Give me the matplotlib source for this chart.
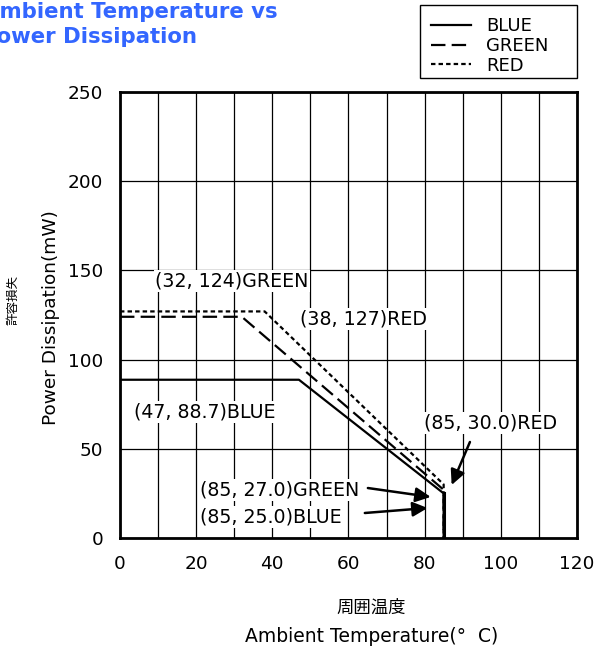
import matplotlib
matplotlib.use("Agg")
import matplotlib.pyplot as plt
from matplotlib.patches import Rectangle

plt.rcParams['font.family'] = ['DejaVu Sans', 'Noto Sans CJK JP']

blue_x = [0, 47, 85, 85]
blue_y = [88.7, 88.7, 25.0, 0]
green_x = [0, 32, 85, 85]
green_y = [124, 124, 27.0, 0]
red_x = [0, 38, 85, 85]
red_y = [127, 127, 30.0, 0]

xticks = [0, 20, 40, 60, 80, 100, 120]
yticks = [0, 50, 100, 150, 200, 250]

W, H = 596, 648
fig = plt.figure(figsize=(W / 100, H / 100), dpi=100)
ax = fig.add_axes([0.2013, 0.1698, 0.7667, 0.6882])

ax.set_xlim(0, 120)
ax.set_ylim(0, 250)
ax.set_xticks(xticks)
ax.set_yticks(yticks)
ax.set_xticks(range(0, 121, 10), minor=True)
ax.grid(True, which='both', axis='x', color='black', lw=0.9)
ax.grid(True, which='major', axis='y', color='black', lw=0.9)
ax.set_axisbelow(True)
ax.tick_params(which='both', length=0, labelsize=13.3)
ax.tick_params(axis='y', pad=12)
ax.tick_params(axis='x', pad=12)
for s in ax.spines.values():
    s.set_linewidth(2)

l1, = ax.plot(blue_x, blue_y, color='black', lw=1.6, label='BLUE', zorder=5)
l2, = ax.plot(green_x, green_y, color='black', lw=1.6, dashes=(6.5, 2.8), label='GREEN', zorder=5)
l3, = ax.plot(red_x, red_y, color='black', lw=1.6, dashes=(2.0, 1.4), label='RED', zorder=5)
ax.plot([85, 85], [0, 25], color='black', lw=2.2, zorder=6)

bb = dict(facecolor='white', edgecolor='none', pad=1)
fs = 13.7
ax.text(29.3, 144, '(32, 124)GREEN', ha='center', va='center', fontsize=fs, bbox=bb, zorder=3)
ax.text(64, 122.8, '(38, 127)RED', ha='center', va='center', fontsize=fs, bbox=bb, zorder=3)
ax.text(22.2, 70.6, '(47, 88.7)BLUE', ha='center', va='center', fontsize=fs, bbox=bb, zorder=3)
ax.text(97.4, 64.5, '(85, 30.0)RED', ha='center', va='center', fontsize=fs, bbox=bb, zorder=3)
ax.text(21.0, 26.9, '(85, 27.0)GREEN', ha='left', va='center', fontsize=fs, bbox=bb, zorder=3)
ax.text(21.0, 11.8, '(85, 25.0)BLUE', ha='left', va='center', fontsize=fs, bbox=bb, zorder=3)

ap = dict(arrowstyle='-|>,head_length=0.45,head_width=0.22', color='black', lw=1.8,
          mutation_scale=20, shrinkA=0, shrinkB=0)
ax.annotate('', xy=(87.1, 29.7), xytext=(91.9, 53.8), arrowprops=ap, zorder=6)
ax.annotate('', xy=(81.6, 23.0), xytext=(65.1, 28.0), arrowprops=ap, zorder=6)
ax.annotate('', xy=(80.8, 16.8), xytext=(64.3, 14.0), arrowprops=ap, zorder=6)

fig.text(278 / W, 1 - 12 / H, 'Ambient Temperature vs', ha='right', va='center',
         fontsize=15.3, fontweight='bold', color='#3366FF')
fig.text(197 / W, 1 - 37 / H, 'Power Dissipation', ha='right', va='center',
         fontsize=15.3, fontweight='bold', color='#3366FF')

fig.text(0.022, 1 - 300 / H, '許容損失', rotation=90, ha='center', va='center', fontsize=9,
         family=['Noto Sans CJK JP'])
fig.text(0.085, 1 - 317.5 / H, 'Power Dissipation(mW)', rotation=90, ha='center', va='center',
         fontsize=13.3)
fig.text(0.623, 0.062, '周囲温度', ha='center', va='center', fontsize=12.5,
         family=['Noto Sans CJK JP'])
fig.text(0.623, 0.017, 'Ambient Temperature(°  C)', ha='center', va='center', fontsize=13.5)

# legend frame (fixed box) and frameless legend inside
fig.add_artist(Rectangle((420 / W, 1 - 78 / H), 157 / W, 73 / H, transform=fig.transFigure,
                         facecolor='white', edgecolor='black', lw=1))
leg = fig.legend(handles=[l1, l2, l3], loc='upper left', bbox_to_anchor=(420 / W, 1 - 6 / H),
                 fontsize=13, frameon=False, handlelength=2.2, labelspacing=0.1,
                 borderpad=0.62, handletextpad=0.83, borderaxespad=0)

fig.savefig('out.png', dpi=100)
